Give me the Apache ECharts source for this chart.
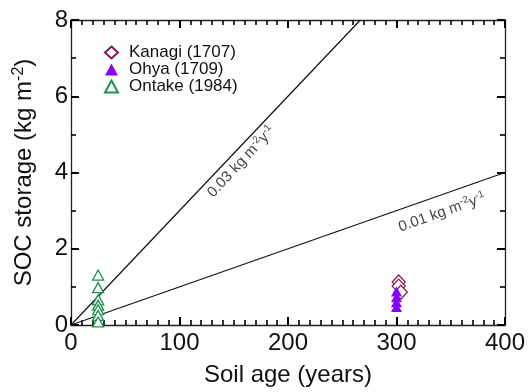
<!DOCTYPE html>
<html>
<head>
<meta charset="utf-8">
<script src="https://cdn.jsdelivr.net/npm/echarts@6/dist/echarts.min.js"></script>
<style>
  html, body { margin: 0; padding: 0; background: #fff; }
  #chart { width: 529px; height: 392px; }
</style>
</head>
<body>
<div id="chart"></div>
<script>
// soil age (years) and SOC storage (kg m-2) per site
const kanagiAge = [302, 302, 304];
const kanagiSoc = [1.13, 1.02, 0.86];
const ohyaAge = [300, 300, 300, 300];
const ohyaSoc = [0.88, 0.73, 0.6, 0.47];
const ontakeAge = [25, 25, 25, 25, 25, 25, 25];
const ontakeSoc = [1.31, 0.98, 0.66, 0.52, 0.4, 0.25, 0.08];

// reference accumulation rates (kg m-2 y-1)
const rates = [0.03, 0.01];
const rateLabels = ['0.03', '0.01'];

const xTicks = [0, 100, 200, 300, 400];
const yTicks = [0, 2, 4, 6, 8];

const FONT = '"Liberation Sans", Arial, sans-serif';
const xMax = xTicks[xTicks.length - 1];
const yMax = yTicks[yTicks.length - 1];

function zip(xs, ys) {
  return xs.map((x, i) => [x, ys[i]]);
}

// straight line from origin, clipped to the plot box
function rateLine(r) {
  const xEnd = Math.min(xMax, yMax / r);
  return [[0, 0], [xEnd, r * xEnd]];
}

const chart = echarts.init(document.getElementById('chart'));

const rich = {
  t: { fontSize: 15, color: '#111', fontFamily: FONT, lineHeight: 18 },
  sup: { fontSize: 10, color: '#111', fontFamily: FONT, verticalAlign: 'top', lineHeight: 12 }
};

function rateText(s) {
  return '{t|' + s + ' kg m}{sup|-2}{t|y}{sup|-1}';
}

// fresh objects for each axis
function tick() {
  return { show: true, inside: true, length: 8, lineStyle: { color: '#000', width: 2 } };
}
function minor(n) {
  return { show: true, splitNumber: n, length: 5, lineStyle: { color: '#000', width: 1.6 } };
}
function axisLine() {
  return { show: true, onZero: false, lineStyle: { color: '#222', width: 1.3 } };
}

const option = {
  animation: false,
  backgroundColor: '#fff',
  grid: { left: 71, right: 24, top: 20, bottom: 64 },
  legend: {
    orient: 'vertical',
    left: 99,
    top: 39,
    itemGap: 0,
    itemWidth: 13,
    itemHeight: 12,
    textStyle: { fontFamily: FONT, fontSize: 17, color: '#111', lineHeight: 17, padding: [0, 0, 0, 6] },
    data: ['Kanagi (1707)', 'Ohya (1709)', 'Ontake (1984)']
  },
  xAxis: [
    {
      type: 'value', min: 0, max: xMax, interval: 100,
      name: 'Soil age (years)', nameLocation: 'middle', nameGap: 38,
      nameTextStyle: { fontFamily: FONT, fontSize: 24, color: '#111' },
      axisLine: axisLine(), axisTick: tick(), minorTick: minor(10),
      axisLabel: { fontFamily: FONT, fontSize: 24, color: '#111', margin: 6 },
      splitLine: { show: false }
    },
    {
      type: 'value', position: 'top', min: 0, max: xMax, interval: 100,
      axisLine: axisLine(), axisTick: tick(), minorTick: minor(10),
      axisLabel: { show: false }, splitLine: { show: false }
    }
  ],
  yAxis: [
    {
      type: 'value', min: 0, max: yMax, interval: 2,
      name: 'SOC storage (kg m{sup|-2})', nameLocation: 'middle', nameGap: 34,
      nameTextStyle: {
        fontFamily: FONT, fontSize: 24, color: '#111',
        rich: { sup: { fontFamily: FONT, fontSize: 16, color: '#111', verticalAlign: 'top', padding: [0, 0, 10, 0] } }
      },
      axisLine: axisLine(), axisTick: tick(), minorTick: minor(2),
      axisLabel: { fontFamily: FONT, fontSize: 24, color: '#111', margin: 3 },
      splitLine: { show: false }
    },
    {
      type: 'value', position: 'right', min: 0, max: yMax, interval: 2,
      axisLine: axisLine(), axisTick: tick(), minorTick: minor(2),
      axisLabel: { show: false }, splitLine: { show: false }
    }
  ],
  series: [
    {
      type: 'line', data: rateLine(rates[0]), symbol: 'none', silent: true,
      lineStyle: { color: '#111', width: 1.2 }, z: 1
    },
    {
      type: 'line', data: rateLine(rates[1]), symbol: 'none', silent: true,
      lineStyle: { color: '#111', width: 1.2 }, z: 1
    },
    {
      type: 'scatter', silent: true, symbolSize: 0, z: 5,
      data: [
        { value: [157, 4.28], label: { rotate: 47, formatter: rateText(rateLabels[0]) } },
        { value: [342, 2.95], label: { rotate: 19.5, formatter: rateText(rateLabels[1]) } }
      ],
      label: { show: true, position: 'inside', align: 'center', verticalAlign: 'middle', rich }
    },
    {
      name: 'Kanagi (1707)', type: 'scatter', symbol: 'diamond', symbolSize: [13, 14],
      data: zip(kanagiAge, kanagiSoc), z: 3,
      itemStyle: { color: '#fff', borderColor: '#8c1552', borderWidth: 1.3, opacity: 1 }
    },
    {
      name: 'Ohya (1709)', type: 'scatter', symbol: 'triangle', symbolSize: [11, 10],
      data: zip(ohyaAge, ohyaSoc), z: 4,
      itemStyle: { color: '#8a00ff', opacity: 1 }
    },
    {
      name: 'Ontake (1984)', type: 'scatter', symbol: 'triangle', symbolSize: [11, 10],
      data: zip(ontakeAge, ontakeSoc), z: 3,
      itemStyle: { color: '#fff', borderColor: '#1a9150', borderWidth: 1.3, opacity: 1 }
    }
  ]
};

chart.setOption(option);
</script>
</body>
</html>
